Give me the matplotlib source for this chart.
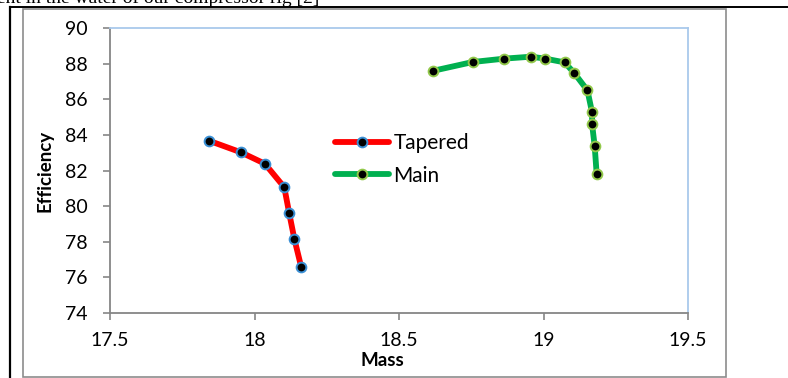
import matplotlib
matplotlib.use("Agg")
import matplotlib.pyplot as plt
from matplotlib.lines import Line2D
from matplotlib.patches import Rectangle

# data
tapered_mass = [17.843, 17.953, 18.036, 18.103, 18.120, 18.138, 18.162]
tapered_eff = [83.67, 83.02, 82.38, 81.06, 79.61, 78.15, 76.56]

main_mass = [18.619, 18.755, 18.864, 18.957, 19.006, 19.073, 19.107,
             19.152, 19.168, 19.168, 19.177, 19.184]
main_eff = [87.60, 88.09, 88.28, 88.39, 88.28, 88.07, 87.46,
            86.50, 85.27, 84.61, 83.39, 81.80]

x_ticks = [17.5, 18, 18.5, 19, 19.5]
x_labels = ["17.5", "18", "18.5", "19", "19.5"]
y_ticks = [74, 76, 78, 80, 82, 84, 86, 88, 90]

plt.rcParams['font.family'] = ['Lato', 'DejaVu Sans']

W, H = 788, 378
fig = plt.figure(figsize=(W / 100, H / 100), dpi=100)


def fx(px):
    return px / W


def fy(py):
    return 1 - py / H


# bits of the page around the chart (the text line above is cut off, as in the source)
fig.text(fx(-3), fy(3), "ent in the water of our compressor rig [2]",
         family=['Liberation Serif'], fontsize=14, va='baseline', ha='left')
fig.add_artist(Line2D([fx(10), fx(10)], [fy(7), fy(380)], color='black', lw=1.6))
fig.add_artist(Line2D([fx(10), fx(790)], [fy(7), fy(7)], color='black', lw=1.4))
fig.add_artist(Rectangle((fx(23), fy(377)), fx(726) - fx(23), fy(9) - fy(377),
                         fill=False, edgecolor='#8c8c8c', lw=1.2))

ax = fig.add_axes([fx(110), fy(313), fx(688) - fx(110), fy(28) - fy(313)])

ax.plot(tapered_mass, tapered_eff, color='#ff0000', lw=4.2,
        solid_capstyle='round', solid_joinstyle='round',
        marker='o', ms=7, mfc='black', mec='#3a8fd4', mew=1.4, label='Tapered')
ax.plot(main_mass, main_eff, color='#00b050', lw=4.2,
        solid_capstyle='round', solid_joinstyle='round',
        marker='o', ms=7, mfc='black', mec='#92c84a', mew=1.4, label='Main')

ax.set_xlim(17.5, 19.5)
ax.set_ylim(74, 90)
ax.set_xticks(x_ticks)
ax.set_xticklabels(x_labels)
ax.set_yticks(y_ticks)

for s in ['left', 'bottom']:
    ax.spines[s].set_color('#868686')
    ax.spines[s].set_linewidth(1.3)
for s in ['top', 'right']:
    ax.spines[s].set_color('#a9c9ec')
    ax.spines[s].set_linewidth(1.3)

ax.tick_params(direction='out', length=5, width=1.2, color='#868686',
               labelsize=14)
ax.tick_params(axis='y', pad=11)
ax.tick_params(axis='x', pad=9)

ax.set_xlabel("Mass", fontsize=13.5, fontweight='bold')
ax.set_ylabel("Efficiency", fontsize=13.5, fontweight='bold')
ax.xaxis.set_label_coords(0.472, -0.168)
ax.yaxis.set_label_coords(-0.112, 0.5)
ax.xaxis.label.set_va('center')
ax.yaxis.label.set_va('center')

ax.legend(loc='upper left', bbox_to_anchor=(fx(335), fy(133)),
          bbox_transform=fig.transFigure, frameon=False, fontsize=15,
          handlelength=2.6, handletextpad=0.2, labelspacing=0.6,
          borderpad=0, borderaxespad=0)

fig.savefig("out.png", dpi=100)
